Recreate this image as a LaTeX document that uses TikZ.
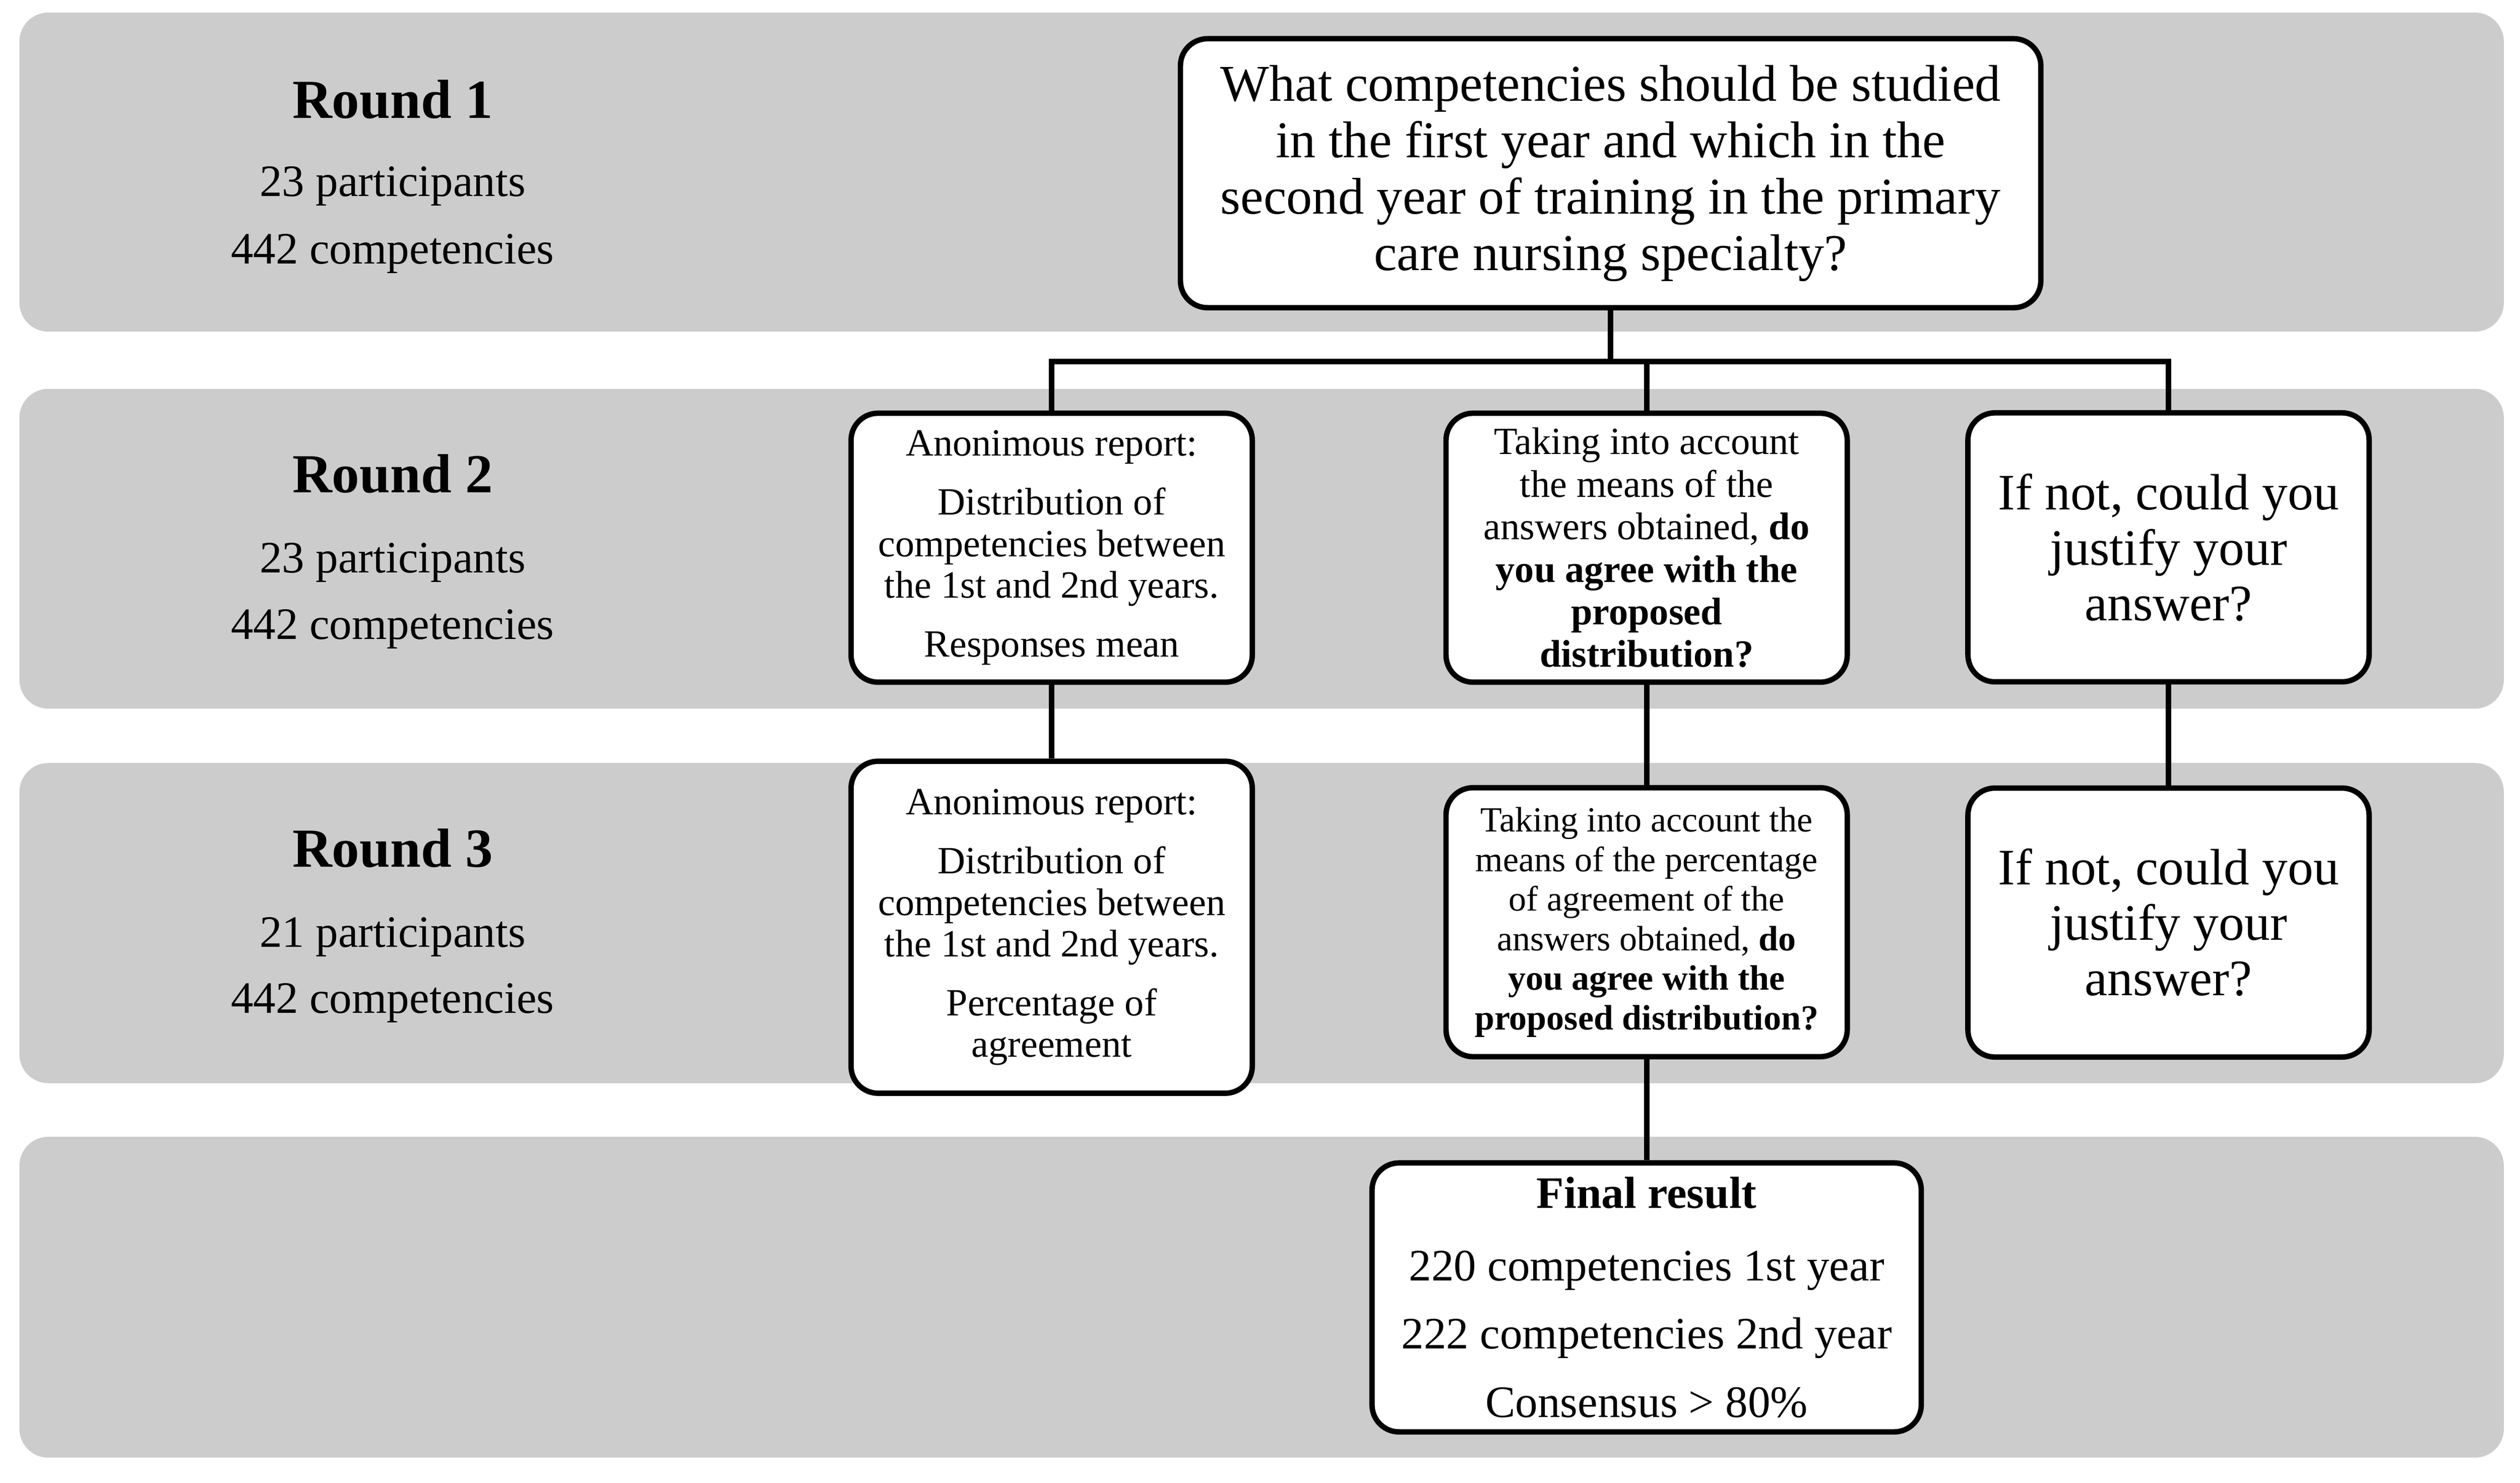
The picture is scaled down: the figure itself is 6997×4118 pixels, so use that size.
\documentclass[tikz,border=0pt]{standalone}
\usepackage{fontspec}
\setmainfont{Liberation Serif}
\begin{document}
\definecolor{bandgray}{RGB}{204,204,204}
\tikzset{
  band/.style={fill=bandgray, draw=none, rounded corners=8mm},
  box/.style={draw=black, fill=white, line width=1.5mm, rounded corners=7.5mm,
    align=center, inner sep=0pt, minimum width=111.4mm, minimum height=74.7mm},
  link/.style={draw=black, line width=1.5mm},
  rtitle/.style={font=\fontsize{43.5}{50}\selectfont\bfseries, anchor=base},
  rinfo/.style={font=\fontsize{35.5}{40}\selectfont, anchor=base},
  qfont/.style={font=\fontsize{40.8}{44.6}\selectfont},
  afont/.style={font=\fontsize{30.4}{32.7}\selectfont},
  bfont/.style={font=\fontsize{30.4}{33.6}\selectfont},
  b3font/.style={font=\fontsize{27.9}{31.3}\selectfont},
  cfont/.style={font=\fontsize{40.4}{43.8}\selectfont},
  ffont/.style={font=\fontsize{35.5}{54}\selectfont}
}
\begin{tikzpicture}[x=0.1mm, y=-0.1mm]
\useasboundingbox (0,0) rectangle (6997,4118);
% bands
\fill[band] (54,35) rectangle (6952,921);
\fill[band] (54,1080) rectangle (6952,1968);
\fill[band] (54,2119) rectangle (6952,3008);
\fill[band] (54,3157) rectangle (6952,4048);
% round labels
\node[rtitle] (r1t) at (1090,328) {Round 1};
\node[rinfo] (r1p) at (1090,545) {23 participants};
\node[rinfo] (r1c) at (1090,733) {442 competencies};
\node[rtitle] (r2t) at (1090,1368) {Round 2};
\node[rinfo] (r2p) at (1090,1590) {23 participants};
\node[rinfo] (r2c) at (1090,1775) {442 competencies};
\node[rtitle] (r3t) at (1090,2408) {Round 3};
\node[rinfo] (r3p) at (1090,2630) {21 participants};
\node[rinfo] (r3c) at (1090,2813) {442 competencies};
% boxes
\node[box, qfont, minimum width=238.9mm] (Q) at (4472,481)
  {What competencies should be studied\\ in the first year and which in the\\ second year of training in the primary\\ care nursing specialty?};
\node[box, afont] (A2) at (2920,1521)
  {Anonimous report:\\[14pt] Distribution of\\ competencies between\\ the 1st and 2nd years.\\[14pt] Responses mean};
\node[box, bfont] (B2) at (4572,1521)
  {Taking into account\\ the means of the\\ answers obtained, \textbf{do}\\ \textbf{you agree with the}\\ \textbf{proposed}\\ \textbf{distribution?}};
\node[box, cfont] (C2) at (6021,1520)
  {If not, could you\\ justify your\\ answer?};
\node[box, afont, minimum height=92.2mm] (A3) at (2920,2575)
  {Anonimous report:\\[14pt] Distribution of\\ competencies between\\ the 1st and 2nd years.\\[14pt] Percentage of\\ agreement};
\node[box, b3font] (B3) at (4572,2561)
  {Taking into account the\\ means of the percentage\\ of agreement of the\\ answers obtained, \textbf{do}\\ \textbf{you agree with the}\\ \textbf{proposed distribution?}};
\node[box, cfont] (C3) at (6021,2562)
  {If not, could you\\ justify your\\ answer?};
\node[box, ffont, minimum width=152.5mm] (F) at (4572,3603)
  {\textbf{Final result}\\[3pt] 220 competencies 1st year\\ 222 competencies 2nd year\\ Consensus > 80\%};
% connectors
\coordinate (bus) at (0,1004);
\draw[link] (Q.south) -- (Q.south |- bus);
\draw[link] (A2.north) -- (A2.north |- bus) -- (C2.north |- bus) -- (C2.north);
\draw[link] (B2.north) -- (B2.north |- bus);
\draw[link] (A2.south) -- (A3.north);
\draw[link] (B2.south) -- (B3.north);
\draw[link] (C2.south) -- (C3.north);
\draw[link] (B3.south) -- (F.north);
\end{tikzpicture}
\end{document}
